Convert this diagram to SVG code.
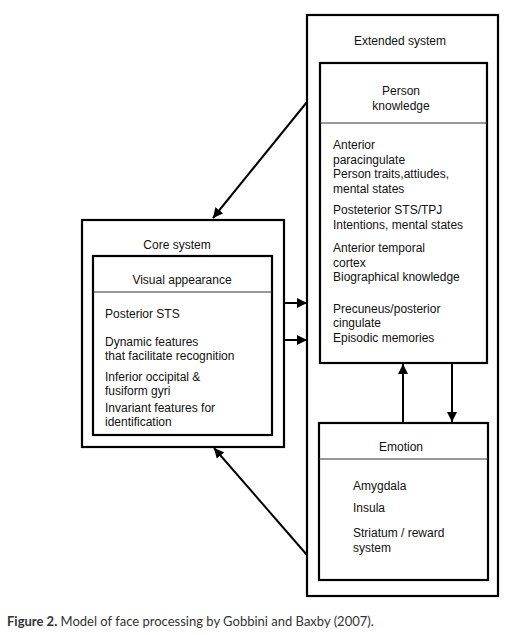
<svg xmlns="http://www.w3.org/2000/svg" width="526" height="635" viewBox="0 0 526 635">
<defs>
<marker id="ah" viewBox="0 0 10 10" refX="10" refY="5" markerWidth="5" markerHeight="5" orient="auto" markerUnits="strokeWidth">
<path d="M0,0 L10,5 L0,10 z" fill="#000"/>
</marker>
<style>
.box{fill:none;stroke:#000;stroke-width:2.2}
.div{stroke:#333;stroke-width:1}
.t{font-family:"Liberation Sans",Arial,sans-serif;font-size:12px;fill:#111}
.c{text-anchor:middle}
.con{stroke:#000;stroke-width:2;fill:none;marker-end:url(#ah)}
.cap{font-family:Lato,"Open Sans",sans-serif;font-size:13px;fill:#333}
</style>
</defs>
<rect width="526" height="635" fill="#fff"/>
<g id="extended">
<rect class="box" x="307" y="15" width="191" height="581"/>
<text class="t c" x="400" y="45">Extended system</text>
</g>
<g id="person-knowledge">
<rect class="box" x="320" y="63" width="167" height="300"/>
<line class="div" x1="320" y1="123" x2="487" y2="123"/>
<text class="t c" x="401" y="95">Person</text>
<text class="t c" x="401" y="110">knowledge</text>
<text class="t" x="333" y="149">Anterior</text>
<text class="t" x="333" y="164">paracingulate</text>
<text class="t" x="333" y="178">Person traits,attiudes,</text>
<text class="t" x="333" y="193">mental states</text>
<text class="t" x="333" y="214">Posteterior STS/TPJ</text>
<text class="t" x="333" y="229">Intentions, mental states</text>
<text class="t" x="333" y="252">Anterior temporal</text>
<text class="t" x="333" y="267">cortex</text>
<text class="t" x="333" y="281">Biographical knowledge</text>
<text class="t" x="333" y="313">Precuneus/posterior</text>
<text class="t" x="333" y="327">cingulate</text>
<text class="t" x="333" y="342">Episodic memories</text>
</g>
<g id="emotion">
<rect class="box" x="319" y="423" width="169" height="157"/>
<line class="div" x1="319" y1="459" x2="488" y2="459"/>
<text class="t c" x="401" y="451">Emotion</text>
<text class="t" x="353" y="490">Amygdala</text>
<text class="t" x="353" y="512">Insula</text>
<text class="t" x="353" y="537">Striatum / reward</text>
<text class="t" x="353" y="552">system</text>
</g>
<g id="core">
<rect class="box" x="82" y="220" width="202" height="227"/>
<text class="t c" x="177" y="249">Core system</text>
</g>
<g id="visual-appearance">
<rect class="box" x="93" y="256" width="179" height="179"/>
<line class="div" x1="93" y1="292" x2="272" y2="292"/>
<text class="t c" x="182" y="284">Visual appearance</text>
<text class="t" x="105" y="318">Posterior STS</text>
<text class="t" x="105" y="346">Dynamic features</text>
<text class="t" x="105" y="360">that facilitate recognition</text>
<text class="t" x="105" y="381">Inferior occipital &amp;</text>
<text class="t" x="105" y="395">fusiform gyri</text>
<text class="t" x="105" y="412">Invariant features for</text>
<text class="t" x="105" y="426">identification</text>
</g>
<g id="connectors">
<line class="con" x1="307" y1="102" x2="213" y2="218"/>
<line class="con" x1="307" y1="555" x2="214" y2="448"/>
<line class="con" x1="284" y1="303" x2="307" y2="303"/>
<line class="con" x1="284" y1="340" x2="307" y2="340"/>
<line class="con" x1="403" y1="423" x2="403" y2="364"/>
<line class="con" x1="452" y1="363" x2="452" y2="422"/>
</g>
<text class="cap" x="7" y="626"><tspan font-weight="bold">Figure 2.</tspan> Model of face processing by Gobbini and Baxby (2007).</text>
</svg>
